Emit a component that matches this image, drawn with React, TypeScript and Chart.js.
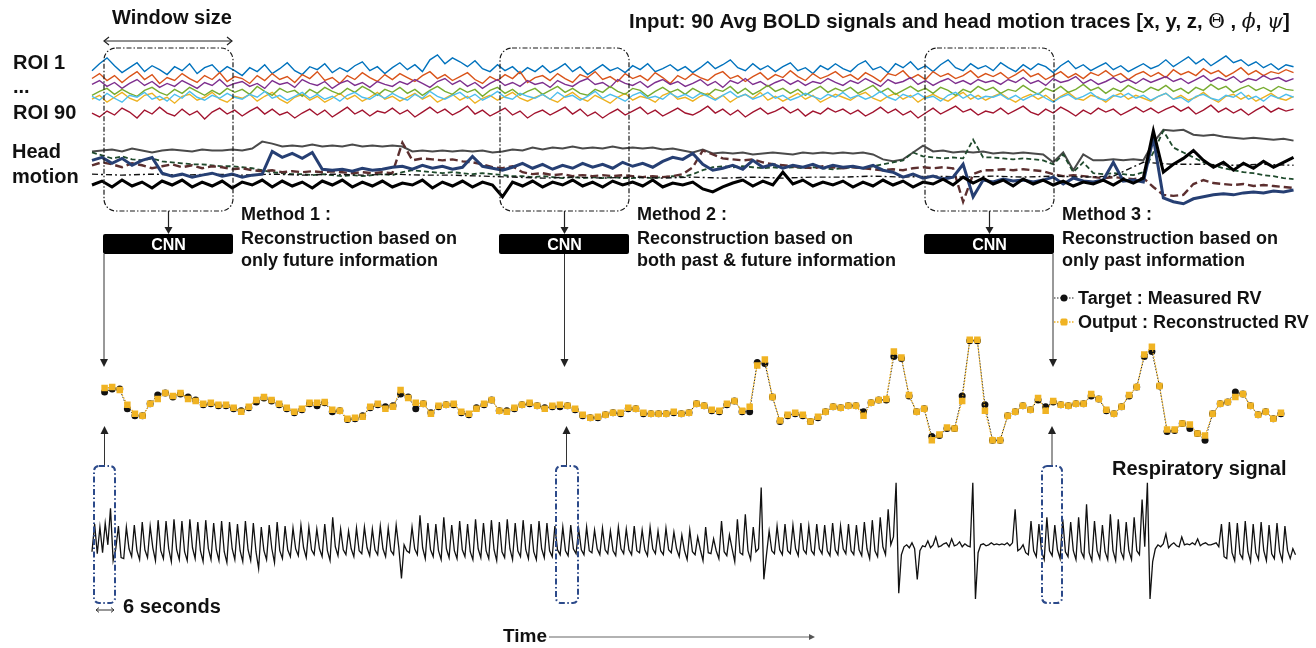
import React, { useEffect, useRef } from "react";
import { Chart, registerables } from "chart.js";
Chart.register(...registerables);

const W = 1316;
const H = 648;

// ---------- BOLD signals (7 example ROIs), amplitude units ----------
const boldBlue = [63,70,76,68,61,66,71,62,68,64,59,67,63,70,60,66,69,61,67,63,
  58,66,62,69,60,65,71,63,59,67,64,70,61,66,62,68,72,63,67,60,
  66,71,64,69,62,74,79,70,76,72,67,73,65,62,69,63,67,60,66,62,
  68,61,65,70,62,67,59,64,69,63,66,61,68,64,70,62,65,69,63,67,
  61,66,72,65,69,74,66,63,70,64,68,62,67,71,63,66,60,68,64,70,
  65,62,69,73,64,67,61,70,66,72,64,68,62,69,74,66,63,70,65,68,
  63,71,66,62,69,64,70,67,61,68,73,65,69,63,67,71,64,68,62,66,
  70,65,68,74,67,72,77,70,75,68,73,78,71,74,68,72,66,70,64,69,67];
const boldOrange = [55,60,53,58,51,57,62,54,59,50,56,53,60,55,51,58,54,61,52,57,
  55,50,58,53,60,54,57,51,59,55,62,53,56,50,58,54,61,56,52,59,
  54,60,56,52,58,62,55,59,53,57,61,54,50,57,53,59,55,62,51,56,
  58,53,60,55,51,59,56,62,54,57,52,60,55,58,53,61,56,50,58,54,
  60,56,53,59,62,55,58,52,57,61,54,59,56,63,57,53,60,55,58,62,
  56,59,54,61,57,52,60,58,63,55,59,54,62,57,60,55,58,63,56,60,
  57,61,55,59,64,57,60,54,58,62,56,60,55,61,58,63,57,60,54,59,
  62,57,61,56,64,59,62,58,65,60,63,57,61,66,59,63,58,62,60,64,61];
const boldPurple = [49,53,47,51,45,50,54,48,52,46,50,47,53,49,45,51,48,54,47,50,
  52,47,50,45,53,49,51,46,54,50,48,52,45,50,53,48,51,46,52,49,
  47,52,49,54,50,46,52,55,49,53,47,51,45,50,54,48,51,47,53,49,
  51,46,53,49,47,52,55,49,51,46,54,50,48,52,46,51,54,49,52,47,
  50,54,48,52,46,53,50,55,49,52,47,51,54,49,53,48,52,50,55,51,
  48,53,50,55,51,47,54,50,52,56,49,53,48,52,55,50,53,49,54,51,
  53,49,54,51,56,50,53,48,55,51,53,57,50,54,49,52,56,51,54,50,
  55,51,54,57,52,55,50,54,58,52,56,53,57,51,55,53,58,54,56,52,55];
const boldGreen = [38,42,45,39,44,40,37,43,46,41,38,44,40,46,42,38,43,39,45,41,
  44,39,47,42,38,45,41,43,37,44,40,46,42,39,45,41,47,43,38,44,
  41,46,40,44,38,43,47,42,39,45,41,44,37,43,46,40,44,38,42,45,
  39,43,47,41,45,40,38,44,41,47,42,39,45,43,37,42,46,41,44,39,
  45,41,38,44,42,47,40,45,39,43,48,42,45,40,44,38,43,47,41,45,
  42,46,40,44,48,41,45,39,43,47,42,45,40,46,43,38,44,41,47,43,
  46,40,44,42,48,43,39,45,42,47,41,44,49,43,46,40,45,42,48,44,
  41,46,43,48,42,45,40,46,43,49,44,47,41,45,48,43,46,42,47,44,43];
const boldYellow = [34,38,31,36,41,35,32,38,40,33,36,30,37,39,33,36,41,34,31,37,
  35,39,32,37,41,34,30,36,39,33,37,31,35,40,34,38,32,36,41,34,
  37,32,36,40,34,38,31,35,39,33,37,30,35,38,33,37,41,35,32,36,
  39,34,31,37,41,35,32,38,34,30,36,40,33,37,35,31,38,41,34,36,
  32,37,40,34,38,31,36,39,35,41,33,37,32,36,40,34,38,31,35,39,
  36,33,38,41,35,32,37,40,34,38,31,36,39,35,32,37,41,34,38,33,
  37,40,35,31,36,39,34,38,32,37,41,35,33,38,36,31,37,40,34,38,
  35,32,37,40,34,38,33,36,41,35,31,37,39,34,38,32,36,40,35,33,37];
const boldCyan = [37,33,40,35,31,38,36,41,34,37,32,39,35,42,36,33,38,35,40,36,
  34,39,36,42,35,38,33,37,41,35,39,34,37,32,38,41,36,34,39,35,
  40,36,33,39,35,42,37,34,38,41,35,39,33,37,42,36,34,40,37,35,
  39,34,41,36,38,33,37,42,35,39,36,32,38,41,35,37,34,40,36,39,
  35,40,37,33,38,42,36,39,34,37,41,35,38,33,36,40,37,34,39,36,
  41,35,38,34,37,42,36,33,39,36,40,35,37,32,38,41,35,39,34,37,
  36,39,34,38,33,37,40,35,31,36,39,34,37,41,35,33,38,36,40,35,
  38,33,37,40,34,36,31,37,39,35,33,38,36,41,34,37,32,38,35,39,36];
const boldRed = [20,16,22,18,25,21,15,23,19,26,20,17,24,18,22,14,21,25,19,23,
  17,22,26,19,24,18,21,15,20,24,18,23,16,21,26,19,23,17,22,20,
  25,19,23,16,21,26,20,24,18,22,27,19,23,17,21,25,18,22,15,20,
  23,18,22,26,19,24,17,21,15,20,24,18,22,26,19,23,17,21,25,20,
  18,22,27,20,24,18,23,16,21,25,19,22,26,20,24,17,22,19,25,21,
  24,19,23,17,21,26,20,24,18,22,15,20,25,19,23,27,21,24,18,22,
  20,25,19,23,27,21,18,24,20,26,22,17,23,19,25,21,24,18,22,26,
  21,25,20,24,27,22,26,19,23,28,21,25,20,24,18,23,27,21,25,22,24];

// ---------- Head motion traces [x, y, z, Θ, ϕ, ψ], displacement units ----------
const motionGray = [51,52,53,51,54,52,50,52,53,52,51,53,52,52,53,52,54,61,59,56,57,56,58,56,57,56,58,56,57,56,57,56,51,52,51,52,51,52,51,52,50,51,53,52,55,53,55,54,56,54,55,54,56,54,55,54,55,53,54,52,50,53,49,50,49,50,48,49,50,49,48,50,49,50,49,50,49,50,48,43,41,43,50,57,51,52,50,51,50,51,49,50,49,50,49,48,40,50,32,48,42,42,43,42,43,42,60,73,72,73,68,67,68,66,65,64,65,64,63,64,62];
const motionGreen = [50,47,44,46,43,42,44,41,40,39,38,38,37,36,36,35,34,32,30,29,28,28,27,28,27,26,27,26,27,28,27,30,32,31,30,29,30,29,28,29,28,27,26,26,25,26,25,24,25,24,25,24,25,24,24,25,24,25,26,25,28,32,35,36,35,36,35,34,35,34,35,34,35,34,33,34,35,34,36,38,40,42,50,46,45,44,45,44,63,45,45,44,43,44,43,42,38,48,30,40,29,28,29,28,27,30,50,72,55,50,45,40,37,34,32,30,29,27,26,24,23];
const motionBrown = [37,40,38,35,39,37,34,36,38,35,37,34,36,35,33,34,32,31,32,30,31,30,31,30,31,30,29,30,29,30,29,60,42,44,43,42,43,41,40,38,35,34,36,30,28,29,27,28,26,27,26,27,26,27,26,25,26,25,26,28,35,52,48,44,43,42,43,40,38,37,36,35,34,36,35,34,35,34,33,32,33,32,34,35,34,35,34,0,28,32,32,33,32,33,32,31,28,26,27,26,25,24,25,24,23,24,15,7,6,7,18,22,19,18,17,18,16,17,16,15,14];
const motionNavy = [42,45,39,44,37,42,45,29,26,28,25,27,29,26,28,25,27,28,51,45,49,44,50,33,32,33,31,34,32,33,35,36,33,37,34,36,33,35,46,36,34,32,35,39,34,38,33,37,34,39,35,38,34,40,36,39,35,41,45,43,49,38,32,34,37,33,42,35,38,34,37,35,38,34,37,35,36,34,37,32,30,25,28,24,26,23,25,38,5,22,20,23,21,22,20,22,25,18,24,21,20,22,40,21,22,20,65,4,0,-2,3,5,7,8,7,9,10,9,11,10,12];
const motionDashDot = [28,27,28,27,28,27,28,27,28,27,28,27,27,26,25,24,25,24,25,24,25,24,25,24,25,25,26,25,26,25,26,25,26,25,26,40,38,38,37,38,37];
const motionBlack = [17,21,15,22,16,20,14,21,17,22,15,20,16,21,14,20,17,22,15,21,16,20,14,21,17,22,15,20,16,21,15,19,17,22,14,20,16,21,15,20,17,5,20,16,21,15,20,17,22,16,20,15,21,17,20,16,22,15,19,17,20,13,10,15,19,22,16,21,17,30,18,22,16,20,17,21,15,20,16,22,17,21,15,20,18,23,17,25,19,24,18,22,16,23,18,22,17,21,16,20,18,22,17,23,19,24,72,30,38,44,52,42,35,40,32,39,34,41,35,40,45];

// ---------- Respiration volume (RV): measured vs reconstructed ----------
const rvTarget = [57,60,60,40,33,33,45,54,56,52,55,52,49,44,45,43,43,40,38,41,47,51,48,44,40,36,39,45,43,46,37,38,29,30,33,41,44,42,43,55,52,40,45,36,42,44,44,36,34,41,44,49,38,38,40,44,45,43,41,42,42,43,39,33,31,31,34,36,35,40,40,35,35,35,35,36,
  35,36,45,43,38,37,44,48,37,37,87,86,52,27,33,35,33,27,31,37,42,41,43,43,37,46,49,49,93,91,53,37,40,12,13,20,20,53,109,109,44,8,8,33,37,43,39,49,42,47,44,43,45,45,53,50,38,35,42,53,62,93,98,63,17,18,25,20,15,8,35,45,47,57,55,43,34,37,30,35];
const rvOutput = [61,62,59,44,35,33,45,50,56,53,56,50,48,45,46,44,44,41,37,42,49,52,49,45,41,37,40,46,46,47,39,38,30,31,32,42,45,40,42,59,51,46,45,35,43,44,45,37,35,40,45,49,38,37,41,44,46,43,40,43,44,43,40,34,31,32,34,36,36,41,40,36,35,35,35,37,
  35,36,45,43,39,38,45,48,38,42,84,90,52,28,34,36,34,27,32,37,42,41,43,43,33,46,49,50,98,92,54,37,40,8,14,21,20,48,110,110,38,8,8,33,37,43,39,51,38,48,44,43,45,45,55,50,39,35,42,54,62,95,103,63,19,19,25,24,15,13,35,45,47,52,55,43,34,37,30,36];

// ---------- Respiratory signal (belt), amplitude units ----------
const respiration = [5,33,3,30,4,34,12,49,-4,8,31,-1,
  -2,30,8,0,32,6,-3,35,7,-1,31,9,-4,37,6,-2,36,8,-5,38,7,-3,36,5,-4,38,9,-2,35,6,-5,37,8,-3,34,7,-4,36,5,-6,35,8,-3,33,6,-5,36,7,-4,34,5,
  -12,30,6,-3,32,8,-6,35,6,-2,31,7,0,29,8,1,32,9,-1,30,7,2,28,8,0,33,6,-4,40,10,1,28,7,2,26,8,0,29,6,3,30,9,1,28,7,2,31,8,0,29,6,2,32,9,
  -22,12,6,4,30,8,2,42,9,-2,34,7,0,33,6,-3,40,8,-1,32,6,-2,36,7,0,33,5,-3,38,8,-1,34,6,-2,37,7,-4,35,5,-1,38,8,-3,34,6,0,37,7,-2,33,5,-3,36,8,-1,34,6,
  0,31,7,2,30,6,1,32,8,3,28,7,2,30,6,4,27,8,2,29,7,3,26,6,1,30,8,3,28,7,2,31,6,4,27,7,1,30,8,3,26,6,2,29,7,4,25,8,
  0,22,6,-3,27,5,2,20,7,-4,30,4,3,18,6,-2,36,5,1,22,8,-5,38,4,2,43,6,-3,30,5,
  8,70,-23,
  2,26,6,3,31,7,2,33,6,3,32,8,1,34,7,3,31,6,2,33,8,3,32,6,1,34,7,2,31,8,3,33,6,2,32,7,1,35,8,-2,37,6,
  0,40,10,2,48,12,20,75,-37,
  2,10,12,9,14,8,-23,6,11,10,16,9,12,20,10,11,13,14,10,18,11,12,15,10,13,11,10,75,-43,4,
  12,13,11,12,14,12,13,12,13,12,14,11,14,48,6,
  8,12,4,2,36,6,0,33,5,-3,40,6,1,32,7,-2,38,5,0,35,6,-3,40,5,-1,53,4,-4,36,6,-2,32,5,-3,43,6,-4,38,5,-2,35,6,-3,40,6,2,58,10,75,-43,-5,
  8,12,10,13,23,9,12,14,11,10,20,12,13,12,14,12,18,11,13,14,12,12,13,14,
  10,33,0,-2,35,4,-4,34,3,-2,36,5,-5,33,4,-3,35,6,-4,32,3,-2,34,5,-4,31,6,-2,8,2];

const SANS = '"Liberation Sans", Arial, Helvetica, sans-serif';
const SERIF = '"DejaVu Serif", "Liberation Serif", serif';

function yAxis(base: number) {
  return { type: "linear", display: false, min: base - H, max: base };
}

function txt(c: CanvasRenderingContext2D, s: string, x: number, y: number, size: number, o: any = {}) {
  c.font = `${o.style || ""} ${o.weight || "bold"} ${size}px ${o.family || SANS}`;
  c.fillStyle = o.color || "#111";
  c.textAlign = o.align || "left";
  c.textBaseline = "alphabetic";
  c.fillText(s, x, y);
  return c.measureText(s).width;
}

function seg(c: CanvasRenderingContext2D, x1: number, y1: number, x2: number, y2: number, color = "#222", w = 1, dash: number[] = []) {
  c.save();
  c.strokeStyle = color;
  c.lineWidth = w;
  c.setLineDash(dash);
  c.beginPath();
  c.moveTo(x1, y1);
  c.lineTo(x2, y2);
  c.stroke();
  c.restore();
}

function head(c: CanvasRenderingContext2D, x: number, y: number, dir: string, len = 7, half = 4, color = "#222") {
  c.save();
  c.fillStyle = color;
  c.beginPath();
  if (dir === "down") { c.moveTo(x, y); c.lineTo(x - half, y - len); c.lineTo(x + half, y - len); }
  if (dir === "up") { c.moveTo(x, y); c.lineTo(x - half, y + len); c.lineTo(x + half, y + len); }
  if (dir === "right") { c.moveTo(x, y); c.lineTo(x - len, y - half); c.lineTo(x - len, y + half); }
  c.closePath();
  c.fill();
  c.restore();
}

function chevron(c: CanvasRenderingContext2D, x: number, y: number, dir: number, s: number, color = "#222", w = 1.2) {
  c.save();
  c.strokeStyle = color;
  c.lineWidth = w;
  c.beginPath();
  c.moveTo(x + dir * s, y - s * 0.8);
  c.lineTo(x, y);
  c.lineTo(x + dir * s, y + s * 0.8);
  c.stroke();
  c.restore();
}

function rrect(c: CanvasRenderingContext2D, x: number, y: number, w: number, h: number, r: number) {
  c.beginPath();
  c.moveTo(x + r, y);
  c.lineTo(x + w - r, y);
  c.arcTo(x + w, y, x + w, y + r, r);
  c.lineTo(x + w, y + h - r);
  c.arcTo(x + w, y + h, x + w - r, y + h, r);
  c.lineTo(x + r, y + h);
  c.arcTo(x, y + h, x, y + h - r, r);
  c.lineTo(x, y + r);
  c.arcTo(x, y, x + r, y, r);
  c.closePath();
}

const annotations = {
  id: "diagramAnnotations",
  afterDraw(chart: any) {
    const c: CanvasRenderingContext2D = chart.ctx;
    c.save();

    // header
    txt(c, "Window size", 172, 24, 20, { align: "center" });
    seg(c, 104, 41, 232, 41, "#222", 1);
    chevron(c, 104, 41, 1, 5);
    chevron(c, 232, 41, -1, 5);

    const runs: [string, string][] = [
      ["Input: 90 Avg BOLD signals and head motion traces [x, y, z, ", `bold 20px ${SANS}`],
      ["\u0398", `normal 20px ${SERIF}`],
      [" , ", `bold 20px ${SANS}`],
      ["\u03D5", `italic normal 20px ${SERIF}`],
      [", ", `bold 20px ${SANS}`],
      ["\u03C8", `italic normal 20px ${SERIF}`],
      ["]", `bold 20px ${SANS}`],
    ];
    let total = 0;
    for (const [s, f] of runs) { c.font = f; total += c.measureText(s).width; }
    const k = 661 / total;
    let x = 629;
    c.fillStyle = "#111";
    c.textAlign = "left";
    c.textBaseline = "alphabetic";
    for (const [s, f] of runs) {
      c.font = f.replace("20px", `${(20 * k).toFixed(2)}px`);
      c.fillText(s, x, 28);
      x += c.measureText(s).width;
    }

    // left labels
    txt(c, "ROI 1", 13, 69, 20);
    txt(c, "...", 13, 93, 20);
    txt(c, "ROI 90", 13, 119, 20);
    txt(c, "Head", 12, 158, 20);
    txt(c, "motion", 12, 183, 20);

    // sliding windows, CNN blocks, method texts
    const wins = [104, 500, 925];
    const methods = [
      ["Method 1 :", "Reconstruction based on", "only future information"],
      ["Method 2 :", "Reconstruction based on", "both past & future information"],
      ["Method 3 :", "Reconstruction based on", "only past information"],
    ];
    const ww = 129;
    wins.forEach((wx, i) => {
      c.save();
      c.strokeStyle = "#1a1a1a";
      c.lineWidth = 1.2;
      c.setLineDash([5, 2, 1.5, 2]);
      rrect(c, wx, 48, ww, 163, 12);
      c.stroke();
      c.restore();
      const cx = wx + ww / 2;
      seg(c, cx, 211, cx, 228, "#222", 1.2);
      head(c, cx, 234, "down", 7, 4);
      c.fillStyle = "#000";
      rrect(c, wx - 1, 234, ww + 1, 20, 2);
      c.fill();
      txt(c, "CNN", cx, 250, 16, { align: "center", color: "#fff" });
      const tx = wx + ww + 8;
      txt(c, methods[i][0], tx, 220, 18);
      txt(c, methods[i][1], tx, 244, 18);
      txt(c, methods[i][2], tx, 266, 18);
    });

    // connectors to RV trace
    const downX = [104, 564.5, 1053];
    downX.forEach((lx) => {
      seg(c, lx, 254, lx, 360, "#333", 1);
      head(c, lx, 367, "down", 8, 4, "#222");
    });
    const upX = [104.5, 566.5, 1052];
    upX.forEach((ux) => {
      seg(c, ux, 466, ux, 433, "#333", 1);
      head(c, ux, 426, "up", 8, 4, "#222");
    });

    // respiratory windows (6 s)
    const boxes = [[94, 21], [556, 22], [1042, 20]];
    boxes.forEach(([bx, bw]) => {
      c.save();
      c.strokeStyle = "#2C4A8A";
      c.lineWidth = 2;
      c.setLineDash([6, 2.5, 1.5, 2.5]);
      rrect(c, bx, 466, bw, 137, 5);
      c.stroke();
      c.restore();
    });

    // legend
    seg(c, 1054, 298, 1074, 298, "#222", 1.2, [1.5, 1.5]);
    c.fillStyle = "#111";
    c.beginPath();
    c.arc(1064, 298, 3.5, 0, Math.PI * 2);
    c.fill();
    txt(c, "Target : Measured RV", 1078, 304, 18);
    seg(c, 1054, 322, 1074, 322, "#F0B323", 1.4, [1.5, 1.5]);
    c.fillStyle = "#F0B323";
    rrect(c, 1060.5, 318.5, 7, 7, 1.5);
    c.fill();
    txt(c, "Output : Reconstructed RV", 1078, 328, 18);

    txt(c, "Respiratory signal", 1112, 475, 20);

    // 6 seconds
    seg(c, 96, 610, 114, 610, "#333", 1);
    chevron(c, 96, 610, 1, 3, "#333", 1);
    chevron(c, 114, 610, -1, 3, "#333", 1);
    txt(c, "6 seconds", 123, 613, 20);

    // time axis
    txt(c, "Time", 503, 642, 19);
    seg(c, 549, 637, 810, 637, "#999", 1.3);
    head(c, 815, 637, "right", 6, 3, "#555");

    c.restore();
  },
};

export default function App() {
  const ref = useRef<HTMLCanvasElement>(null);

  useEffect(() => {
    const canvas = ref.current;
    if (!canvas) return;

    const BOLD = { x0: 88, x1: 1298, y: "yBold" };
    const HEAD = { x0: 88, x1: 1298, y: "yHead" };
    const RV = { x0: 100.7, x1: 1285.3, y: "yRV" };
    const RESP = { x0: 88, x1: 1300, y: "yResp" };

    const specs: any[] = [
      { label: "ROI a", data: boldBlue, color: "#0072BD", w: 1.4, band: BOLD },
      { label: "ROI b", data: boldOrange, color: "#D95319", w: 1.4, band: BOLD },
      { label: "ROI c", data: boldPurple, color: "#7E2F8E", w: 1.4, band: BOLD },
      { label: "ROI d", data: boldYellow, color: "#EDB120", w: 1.4, band: BOLD },
      { label: "ROI e", data: boldGreen, color: "#77AC30", w: 1.4, band: BOLD },
      { label: "ROI f", data: boldCyan, color: "#4DBEEE", w: 1.4, band: BOLD },
      { label: "ROI g", data: boldRed, color: "#A2142F", w: 1.4, band: BOLD },
      { label: "motion 1", data: motionGray, color: "#4a4a4a", w: 2, band: HEAD },
      { label: "motion 2", data: motionGreen, color: "#1f4a2c", w: 1.8, dash: [5, 3], band: HEAD },
      { label: "motion 3", data: motionBrown, color: "#5c2f2f", w: 2.4, dash: [8, 4], band: HEAD },
      { label: "motion 4", data: motionDashDot, color: "#111", w: 1.4, dash: [6, 3, 2, 3], band: HEAD },
      { label: "motion 5", data: motionNavy, color: "#263f73", w: 3, band: HEAD },
      { label: "motion 6", data: motionBlack, color: "#000", w: 3, band: HEAD },
      { label: "Target : Measured RV", data: rvTarget, color: "#222", w: 1, dash: [1.5, 1.5], band: RV, pr: 3.5, ps: "circle", pc: "#111" },
      { label: "Output : Reconstructed RV", data: rvOutput, color: "#F0B323", w: 1.2, dash: [1.5, 1.5], band: RV, pr: 4.6, ps: "rect", pc: "#F0B323" },
      { label: "Respiratory signal", data: respiration, color: "#111", w: 1.3, band: RESP },
    ];

    const scales: any = {
      yBold: yAxis(130),
      yHead: yAxis(200),
      yRV: yAxis(450),
      yResp: yAxis(560),
    };

    const datasets = specs.map((s, k) => {
      const n = s.data.length;
      const step = (s.band.x1 - s.band.x0) / (n - 1);
      scales["x" + k] = { type: "linear", display: false, min: -s.band.x0 / step, max: (W - s.band.x0) / step };
      return {
        label: s.label,
        data: s.data.map((v: number, i: number) => ({ x: i, y: v })),
        xAxisID: "x" + k,
        yAxisID: s.band.y,
        borderColor: s.color,
        borderWidth: s.w,
        borderDash: s.dash || [],
        pointRadius: s.pr || 0,
        pointStyle: s.ps || "circle",
        pointBackgroundColor: s.pc || s.color,
        pointBorderColor: s.pc || s.color,
        pointBorderWidth: 0,
        tension: 0,
        fill: false,
        order: -k,
      };
    });

    const chart = new Chart(canvas, {
      type: "line",
      data: { datasets } as any,
      options: {
        animation: false,
        responsive: false,
        devicePixelRatio: 1,
        events: [],
        layout: { padding: 0 },
        plugins: { legend: { display: false }, tooltip: { enabled: false }, title: { display: false } },
        scales,
      } as any,
      plugins: [annotations as any],
    });
    return () => chart.destroy();
  }, []);

  return (
    <div style={{ position: "fixed", left: 0, top: 0, width: W, height: H, background: "#fff" }}>
      <canvas ref={ref} width={W} height={H} style={{ display: "block", width: W, height: H }} />
    </div>
  );
}
